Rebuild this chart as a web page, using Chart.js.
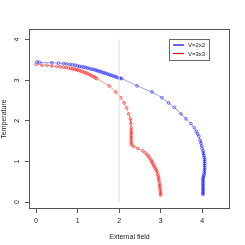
<!DOCTYPE html>
<html>
<head>
<meta charset="utf-8">
<script src="https://cdn.jsdelivr.net/npm/chart.js@4/dist/chart.umd.min.js"></script>
<style>
html,body{margin:0;padding:0;background:#fff}
#wrap{width:245px;height:245px}
</style>
</head>
<body>
<div id="wrap"><canvas id="c" width="245" height="245"></canvas></div>
<script>
// V=2x2 series
const x2=[0.02,0.08,0.38,0.54,0.66,0.74,0.82,0.88,0.94,1.0,1.05,1.1,1.15,1.2,1.25,1.3,1.35,1.4,1.44,1.48,1.52,1.56,1.6,1.64,1.68,1.72,1.76,1.8,1.84,1.88,1.92,1.96,2.0,2.03,2.06,
2.43,2.79,3.03,3.19,3.33,3.49,3.61,3.73,3.81,3.86,3.89,3.92,3.95,3.97,3.99,4.0,4.02,
4.03,4.04,4.05,4.06,4.06,4.06,4.06,4.06,4.06,4.05,4.05,4.04,4.03,4.02,4.02,4.02,4.02,4.02,4.02,4.02,4.02,4.02,4.02,4.02]
const y2=[3.45,3.44,3.43,3.42,3.41,3.40,3.39,3.38,3.37,3.35,3.34,3.33,3.32,3.31,3.30,3.28,3.27,3.26,3.25,3.23,3.22,3.21,3.19,3.18,3.17,3.15,3.14,3.12,3.11,3.10,3.08,3.07,3.05,3.05,3.04,
2.86,2.71,2.57,2.44,2.33,2.17,2.05,1.93,1.83,1.74,1.68,1.62,1.52,1.45,1.38,1.32,1.26,
1.2,1.15,1.1,1.05,1.0,0.95,0.9,0.85,0.8,0.75,0.7,0.66,0.62,0.58,0.54,0.5,0.46,0.42,0.38,0.34,0.3,0.26,0.22,0.19]

// V=3x3 series
const x3=[0.0,0.14,0.26,0.38,0.5,0.58,0.66,0.72,0.78,0.84,0.88,0.92,0.96,1.0,1.04,1.08,1.12,1.16,1.2,1.24,1.28,1.32,1.36,1.4,1.43,1.46,
1.76,1.92,2.04,2.12,2.18,2.23,2.27,2.28,2.29,2.29,2.29,2.29,2.29,2.29,2.29,2.30,
2.35,2.45,2.57,2.63,2.68,2.71,2.74,2.77,2.79,2.81,2.83,2.85,2.87,2.89,2.91,2.93,2.94,2.95,2.96,2.97,2.98,2.98,2.99,2.99,3.0,3.0]
const y3=[3.39,3.37,3.37,3.35,3.34,3.33,3.32,3.31,3.30,3.29,3.28,3.27,3.26,3.25,3.24,3.22,3.21,3.19,3.18,3.16,3.14,3.12,3.10,3.08,3.06,3.04,
2.86,2.71,2.57,2.44,2.32,2.17,2.05,1.93,1.83,1.76,1.70,1.64,1.58,1.52,1.46,1.41,
1.37,1.32,1.26,1.21,1.16,1.12,1.08,1.03,0.99,0.95,0.91,0.87,0.83,0.79,0.75,0.69,0.64,0.58,0.53,0.46,0.41,0.36,0.31,0.26,0.21,0.17]

const markX=[2,2]
const markY=[0,4]
const xTicks=[0,1,2,3,4]
const yTicks=[0,1,2,3,4]
const labels=["V=2x2","V=3x3"]

const pts=(xs,ys)=>xs.map((x,i)=>({x:x,y:ys[i]}))
const FONT='"Liberation Sans", Arial, sans-serif'

const rStyle={
id:"rStyle",
afterDraw(chart){
const ctx=chart.ctx
const a=chart.chartArea
const ys=chart.scales.y
ctx.save()
ctx.strokeStyle="#555"
ctx.lineWidth=1
ctx.strokeRect(a.left+0.5,a.top+0.5,a.right-a.left-1,a.bottom-a.top-1)
// y tick labels, rotated like R
ctx.fillStyle="#222"
ctx.font="7px "+FONT
ctx.textAlign="center"
ctx.textBaseline="middle"
yTicks.forEach(v=>{
const py=ys.getPixelForValue(v)
ctx.save()
ctx.translate(17.5,py)
ctx.rotate(-Math.PI/2)
ctx.fillText(String(v),0,0)
ctx.restore()
})
// legend
const lx=169,ly=39,lw=40,lh=21
ctx.fillStyle="#fff"
ctx.fillRect(lx,ly,lw,lh)
ctx.strokeStyle="#666"
ctx.strokeRect(lx+0.5,ly+0.5,lw,lh)
ctx.font="6px "+FONT
ctx.textAlign="left"
const cols=["#0000ff","#ff0000"]
labels.forEach((t,i)=>{
const yy=ly+6+i*8.5
ctx.strokeStyle=cols[i]
ctx.lineWidth=1.2
ctx.beginPath()
ctx.moveTo(lx+4,yy)
ctx.lineTo(lx+15,yy)
ctx.stroke()
ctx.fillStyle="#222"
ctx.fillText(t,lx+19,yy+0.5)
})
ctx.restore()
}
}

new Chart(document.getElementById("c"),{
type:"scatter",
data:{datasets:[
{label:"mark",data:pts(markX,markY),showLine:true,borderColor:"#e2e2e2",borderWidth:1.3,pointRadius:0},
{label:labels[0],data:pts(x2,y2),showLine:true,borderColor:"rgba(40,40,255,0.75)",borderWidth:0.6,
pointBorderColor:"rgba(40,40,255,0.8)",pointBackgroundColor:"rgba(0,0,0,0)",pointRadius:1.4,pointBorderWidth:0.8},
{label:labels[1],data:pts(x3,y3),showLine:true,borderColor:"rgba(255,40,40,0.75)",borderWidth:0.6,
pointBorderColor:"rgba(255,40,40,0.8)",pointBackgroundColor:"rgba(0,0,0,0)",pointRadius:1.4,pointBorderWidth:0.8}
]},
options:{
responsive:false,
animation:false,
layout:{padding:{left:0,right:15,top:29,bottom:0}},
plugins:{legend:{display:false},tooltip:{enabled:false}},
scales:{
x:{type:"linear",min:-0.17,max:4.67,
afterBuildTicks:s=>{s.ticks=xTicks.map(v=>({value:v}))},
afterFit:s=>{s.height=36},
grid:{drawOnChartArea:false,drawTicks:true,tickLength:4,color:"#555"},
border:{display:false},
ticks:{padding:4,color:"#222",font:{size:7,family:FONT},maxRotation:0},
title:{display:true,text:"External field",color:"#222",font:{size:7,family:FONT},padding:{top:3}}
},
y:{type:"linear",min:-0.17,max:4.26,
afterBuildTicks:s=>{s.ticks=yTicks.map(v=>({value:v}))},
afterFit:s=>{s.width=29},
grid:{drawOnChartArea:false,drawTicks:true,tickLength:4,color:"#555"},
border:{display:false},
ticks:{display:false},
title:{display:true,text:"Temperature",color:"#222",font:{size:7,family:FONT},padding:{top:0,bottom:0}}
}
}
},
plugins:[rStyle]
})
</script>
</body>
</html>
